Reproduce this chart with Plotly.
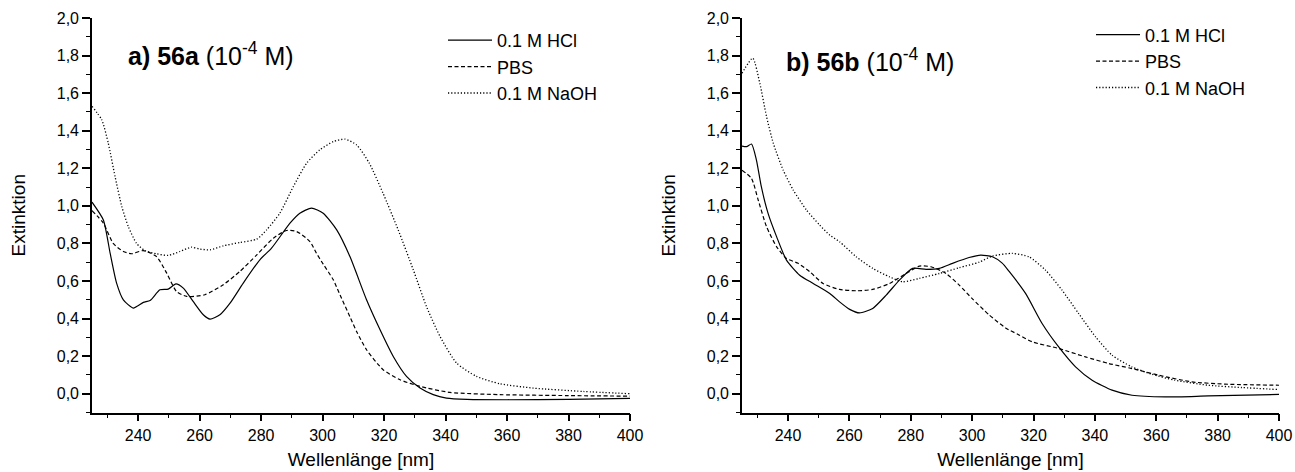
import plotly.graph_objects as go

# ---------------- data ----------------
wl_a_hcl = [225, 228.7, 230.9, 233, 235.2, 238.4, 241.7, 243.9, 247.1, 249.8, 252.3, 254.7, 257.9,
            261.2, 263.4, 266.6, 269.9, 274.2, 279.6, 283.4, 289.4, 292.6, 296.4, 300.2, 304.6,
            308.9, 314.3, 318.7, 323, 327.3, 331.7, 336, 340.3, 347, 360, 380, 400]
ext_a_hcl = [1.02, 0.925, 0.748, 0.589, 0.50, 0.456, 0.486, 0.496, 0.553, 0.557, 0.585, 0.562, 0.491,
             0.42, 0.397, 0.42, 0.482, 0.589, 0.713, 0.775, 0.908, 0.961, 0.988, 0.961, 0.872,
             0.73, 0.50, 0.34, 0.198, 0.092, 0.03, -0.005, -0.023, -0.03, -0.032, -0.03, -0.025]

wl_a_pbs = [225, 228.7, 231.9, 235.2, 237.9, 241.7, 246, 249.3, 252.5, 255.8, 261.7, 267.7, 273.1,
            278.6, 284, 288.3, 291.6, 295.9, 298, 300.2, 303.5, 305.7, 308.9, 311.1, 314.3, 319.7,
            325.2, 331.7, 341.4, 357.7, 380, 400]
ext_a_pbs = [0.975, 0.908, 0.80, 0.757, 0.745, 0.762, 0.73, 0.642, 0.544, 0.518, 0.527, 0.58, 0.651,
             0.739, 0.828, 0.869, 0.863, 0.81, 0.748, 0.69, 0.606, 0.525, 0.41, 0.33, 0.234, 0.128,
             0.074, 0.039, 0.007, -0.005, -0.01, -0.013]

wl_a_naoh = [225, 228.2, 230.3, 232.5, 234.7, 236.8, 239.5, 242.2, 246, 249.8, 253.6, 257.4, 260.1,
             263.4, 267.7, 273.1, 278.6, 281.8, 286.1, 290.5, 294.8, 299.1, 303.5, 307.3, 311.1,
             315.2, 319.6, 324.6, 329.5, 333.8, 338.2, 343.6, 350.1, 357.7, 368.5, 384.8, 400]
ext_a_naoh = [1.53, 1.457, 1.333, 1.156, 0.996, 0.89, 0.80, 0.762, 0.745, 0.736, 0.757, 0.78, 0.77,
              0.766, 0.787, 0.805, 0.823, 0.872, 0.961, 1.103, 1.227, 1.298, 1.342, 1.355, 1.324,
              1.227, 1.07, 0.872, 0.66, 0.464, 0.305, 0.163, 0.092, 0.053, 0.03, 0.012, 0.0]

wl_b_hcl = [225, 226.5, 228.1, 229.7, 231.3, 233.5, 236.3, 239.5, 243.8, 248.2, 253.6, 256.8, 260.1,
            263.3, 267.6, 272, 276.3, 280.6, 285, 289.3, 293.6, 299, 302.8, 306.6, 309.8, 312,
            317.4, 322.8, 328.2, 333.7, 339.1, 345.6, 352.1, 362.9, 377, 400]
ext_b_hcl = [1.318, 1.315, 1.329, 1.244, 1.102, 0.96, 0.835, 0.711, 0.631, 0.587, 0.534, 0.489, 0.449,
             0.43, 0.454, 0.525, 0.605, 0.667, 0.662, 0.667, 0.694, 0.725, 0.738, 0.729, 0.695, 0.652,
             0.534, 0.374, 0.249, 0.143, 0.072, 0.019, -0.008, -0.017, -0.012, -0.004]

wl_b_pbs = [225, 228.1, 230.3, 233, 236.3, 239.5, 243.3, 247.1, 251.4, 256.8, 262.2, 267.6, 273.1,
            278.5, 282.8, 286.6, 291.5, 295.8, 300.1, 305.5, 310.9, 315, 319.6, 328.2, 336.9, 344.5,
            352.1, 360.7, 371.6, 382.4, 400]
ext_b_pbs = [1.19, 1.146, 1.03, 0.889, 0.782, 0.72, 0.694, 0.649, 0.587, 0.555, 0.548, 0.555, 0.587,
             0.64, 0.679, 0.676, 0.64, 0.578, 0.505, 0.42, 0.35, 0.315, 0.276, 0.241, 0.196, 0.161,
             0.134, 0.099, 0.063, 0.051, 0.045]

wl_b_naoh = [225, 228.5, 230.8, 233, 235.2, 238.4, 241.7, 246, 250.3, 253.6, 256.8, 262.2, 267.6,
             273.1, 277.4, 282.8, 289.3, 295.8, 302.3, 306.6, 313.1, 318.5, 323.9, 329.3, 334.7,
             340.2, 345.6, 352, 358.5, 366.1, 376.9, 387.8, 400]
ext_b_naoh = [1.706, 1.786, 1.653, 1.475, 1.333, 1.191, 1.084, 0.978, 0.898, 0.844, 0.809, 0.729, 0.667,
              0.622, 0.596, 0.614, 0.64, 0.671, 0.70, 0.733, 0.747, 0.729, 0.658, 0.551, 0.427,
              0.303, 0.205, 0.143, 0.104, 0.072, 0.045, 0.033, 0.022]

series_names = ["0.1 M HCl", "PBS", "0.1 M NaOH"]
panel_titles = ["<b>a) 56a</b> (10<sup>-4</sup> M)", "<b>b) 56b</b> (10<sup>-4</sup> M)"]
x_title = "Wellenlänge [nm]"
y_title = "Extinktion"

# ---------------- styling ----------------
W, H = 1295, 472
FONT = "Liberation Sans, Arial, sans-serif"
dashes = ["solid", "4px,2.5px", "1.2px,2px"]
widths = [1.2, 1.2, 1.3]

fig = go.Figure()
panels = [
    ([(wl_a_hcl, ext_a_hcl), (wl_a_pbs, ext_a_pbs), (wl_a_naoh, ext_a_naoh)], "x", "y", "legend"),
    ([(wl_b_hcl, ext_b_hcl), (wl_b_pbs, ext_b_pbs), (wl_b_naoh, ext_b_naoh)], "x2", "y2", "legend2"),
]
for data, xa, ya, lg in panels:
    for (xs, ys), name, d, w in zip(data, series_names, dashes, widths):
        fig.add_trace(go.Scatter(
            x=xs, y=ys, name=name, mode="lines", xaxis=xa, yaxis=ya, legend=lg,
            line=dict(color="black", width=w, dash=d, shape="spline", smoothing=0.6),
        ))

ydom = [(H - 412.5) / H, (H - 18) / H]
xdoms = [[92 / W, 630 / W], [742 / W, 1279 / W]]

def xax(dom, anchor):
    return dict(
        domain=dom, range=[225, 400], anchor=anchor, showgrid=False, zeroline=False,
        automargin=False,
        showline=True, linecolor="black", linewidth=1.6,
        ticks="outside", ticklen=7, tickwidth=1.5, tickcolor="black",
        tick0=0, dtick=20,
        minor=dict(dtick=10, ticks="outside", ticklen=4, tickwidth=1.3, tickcolor="black"),
        tickfont=dict(family=FONT, size=16, color="black"),
        title=dict(text=x_title, font=dict(family=FONT, size=19, color="black"), standoff=10),
    )

def yax(anchor):
    return dict(
        domain=ydom, range=[-0.1, 2.0], anchor=anchor, showgrid=False, zeroline=False,
        automargin=False,
        showline=True, linecolor="black", linewidth=1.6,
        ticks="outside", ticklen=8, tickwidth=1.5, tickcolor="black",
        tick0=0, dtick=0.2, tickformat=".1f",
        minor=dict(dtick=0.1, ticks="outside", ticklen=4, tickwidth=1.3, tickcolor="black"),
        tickfont=dict(family=FONT, size=16, color="black"),
        title=dict(text=y_title, font=dict(family=FONT, size=19, color="black"), standoff=26),
    )

def top_ax(dom, overlay, anchor):
    return dict(domain=dom, range=[225, 400], overlaying=overlay, anchor=anchor, side="top",
                automargin=False,
                showgrid=False, zeroline=False, showline=True, linecolor="black", linewidth=1.6,
                ticks="outside", ticklen=3, tickwidth=1, tickcolor="black", dtick=10, tick0=0,
                showticklabels=False)

def right_ax(overlay, anchor):
    return dict(domain=ydom, range=[-0.1, 2.0], overlaying=overlay, anchor=anchor, side="right",
                automargin=False,
                showgrid=False, zeroline=False, showline=True, linecolor="black", linewidth=1.6,
                ticks="outside", ticklen=3, tickwidth=1, tickcolor="black", dtick=0.1, tick0=0,
                showticklabels=False)

legend_common = dict(
    xanchor="left", yanchor="top", bgcolor="rgba(0,0,0,0)", borderwidth=0,
    font=dict(family=FONT, size=18, color="black"), itemwidth=44, tracegroupgap=0,
)

fig.update_layout(
    width=W, height=H,
    margin=dict(l=0, r=0, t=0, b=0, autoexpand=False),
    paper_bgcolor="white", plot_bgcolor="white",
    separators=",.",
    showlegend=True,
    xaxis=xax(xdoms[0], "y"),
    yaxis=yax("x"),
    xaxis2=xax(xdoms[1], "y2"),
    yaxis2=yax("x2"),
    xaxis3=top_ax(xdoms[0], "x", "y"),
    yaxis3=right_ax("y", "x"),
    xaxis4=top_ax(xdoms[1], "x2", "y2"),
    yaxis4=right_ax("y2", "x2"),
    legend=dict(x=443 / W, y=1 - 22 / H, **legend_common),
    legend2=dict(x=1091 / W, y=1 - 16.5 / H, **legend_common),
    annotations=[
        dict(text=panel_titles[0], x=126 / W, y=1 - 54 / H, xref="paper", yref="paper",
             xanchor="left", yanchor="middle", showarrow=False,
             font=dict(family=FONT, size=25, color="black")),
        dict(text=panel_titles[1], x=784 / W, y=1 - 60 / H, xref="paper", yref="paper",
             xanchor="left", yanchor="middle", showarrow=False,
             font=dict(family=FONT, size=25, color="black")),
    ],
)

fig.write_html(
    "out.html",
    config={"displayModeBar": False},
    post_script="document.body.style.margin='0';document.body.style.overflow='hidden';",
)
